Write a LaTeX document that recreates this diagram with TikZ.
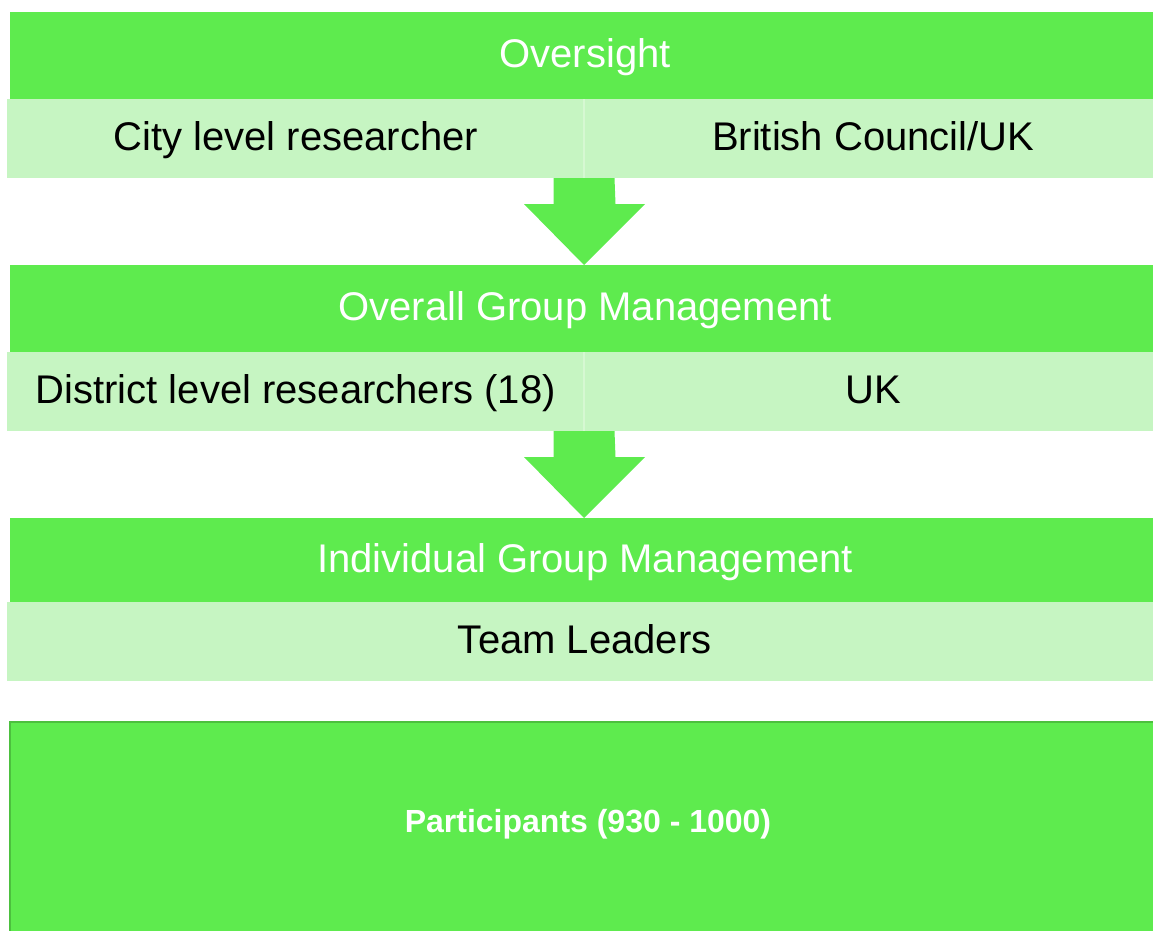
\documentclass[tikz,border=0pt]{standalone}
\usepackage{fontspec}
\setmainfont{Liberation Sans}
\definecolor{hdr}{RGB}{94,235,78}
\definecolor{row}{RGB}{198,245,194}
\definecolor{rowline}{RGB}{214,248,210}
\definecolor{edge}{RGB}{76,192,62}
\begin{document}
\begin{tikzpicture}[x=1pt,y=-1pt,
  hdrbox/.style={fill=hdr,draw=none,inner sep=0pt,anchor=north west,text=white,font=\fontsize{40}{44}\selectfont,text height=32pt,text depth=8pt},
  rowbox/.style={fill=row,draw=none,inner sep=0pt,anchor=north west,text=black,font=\fontsize{40}{44}\selectfont,text height=32pt,text depth=8pt},
  downarrow/.style={fill=hdr,draw=none}]
\useasboundingbox (0,0) rectangle (1153,930);
\clip (0,0) rectangle (1153,930);
% level 1
\node[hdrbox,minimum width=1150pt,minimum height=87pt] (h1) at (10,12) {Oversight};
\node[rowbox,minimum width=577pt,minimum height=79pt] (r1a) at (7,99) {City level researcher};
\node[rowbox,minimum width=578pt,minimum height=79pt] (r1b) at (584,99) {British Council/UK};
\draw[rowline,line width=1.5pt] (r1b.north west) -- (r1b.south west);
% arrow 1
\coordinate (a1) at (584,178);
\fill[downarrow] ([xshift=-30.5pt]a1) -- ++(0,26) -- ++(-29.5,0) -- (584,265) -- (645,204) -- ++(-29.5,0) -- ([xshift=30.5pt]a1) -- cycle;
% level 2
\node[hdrbox,minimum width=1150pt,minimum height=87pt] (h2) at (10,265) {Overall Group Management};
\node[rowbox,minimum width=577pt,minimum height=79pt] (r2a) at (7,352) {District level researchers (18)};
\node[rowbox,minimum width=578pt,minimum height=79pt] (r2b) at (584,352) {UK};
\draw[rowline,line width=1.5pt] (r2b.north west) -- (r2b.south west);
% arrow 2
\coordinate (a2) at (584,431);
\fill[downarrow] ([xshift=-30.5pt]a2) -- ++(0,26) -- ++(-29.5,0) -- (584,518) -- (645,457) -- ++(-29.5,0) -- ([xshift=30.5pt]a2) -- cycle;
% level 3
\node[hdrbox,minimum width=1150pt,minimum height=84pt] (h3) at (10,518) {Individual Group Management};
\node[rowbox,minimum width=1155pt,minimum height=79pt] (r3) at (7,602) {Team Leaders};
% participants
\node[fill=hdr,draw=edge,line width=2.5pt,inner sep=0pt,anchor=north west,minimum width=1160pt,minimum height=230pt] (p) at (8.5,720.5) {};
\node[text=white,font=\bfseries\fontsize{32}{36}\selectfont,text height=24pt,text depth=6pt] (pt) at (588,823) {Participants (930 - 1000)};
\end{tikzpicture}
\end{document}
